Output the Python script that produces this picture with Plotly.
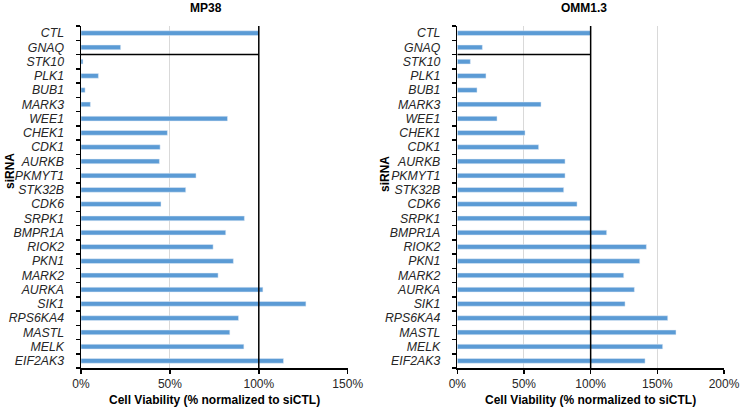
import plotly.graph_objects as go

genes = ["CTL", "GNAQ", "STK10", "PLK1", "BUB1", "MARK3", "WEE1", "CHEK1", "CDK1",
         "AURKB", "PKMYT1", "STK32B", "CDK6", "SRPK1", "BMPR1A", "RIOK2", "PKN1",
         "MARK2", "AURKA", "SIK1", "RPS6KA4", "MASTL", "MELK", "EIF2AK3"]

mp38 = [100, 22.3, 1.1, 9.8, 2.3, 5.3, 82.4, 48.6, 44.5, 44.1, 64.7, 58.9, 45.0,
        91.9, 81.4, 74.3, 85.7, 77.1, 102.3, 126.5, 88.6, 83.7, 91.6, 113.9]

omm13 = [100, 18.8, 9.8, 21.5, 14.8, 62.8, 29.8, 50.8, 61.0, 80.8, 80.8, 79.8, 89.8,
         100, 112.0, 141.8, 136.8, 124.8, 132.8, 125.8, 157.8, 164.0, 154.0, 140.8]

left_ticks = [0, 50, 100, 150]
right_ticks = [0, 50, 100, 150, 200]

W, H = 740, 411
BLUE = "#5B9BD5"
FONT = "Liberation Sans, Arial, sans-serif"

def px(x):
    return x / W

def py(y):
    return 1 - y / H

fig = go.Figure()
fig.add_trace(go.Bar(y=genes, x=mp38, orientation="h", marker_color=BLUE,
                     width=0.33, xaxis="x", yaxis="y", showlegend=False))
fig.add_trace(go.Bar(y=genes, x=omm13, orientation="h", marker_color=BLUE,
                     width=0.33, xaxis="x2", yaxis="y2", showlegend=False))

ydom = [py(368), py(26)]
xcommon = dict(showline=True, linecolor="black", linewidth=1.5, ticks="outside",
               ticklen=4, tickcolor="black", tickwidth=1.5, showgrid=True,
               gridcolor="#d9d9d9", gridwidth=1, zeroline=False,
               tickfont=dict(size=12, color="#262626", family=FONT), fixedrange=True,
               automargin=False)
ycommon = dict(showline=True, linecolor="black", linewidth=1.5, ticks="outside",
               ticklen=4, tickcolor="black", tickwidth=1.5, tickson="boundaries",
               showgrid=False, autorange="reversed", type="category",
               tickfont=dict(size=12.3, color="#262626", family=FONT),
               ticklabelstandoff=13, domain=ydom, automargin=False, fixedrange=True,
               tickvals=genes, ticktext=[f"<i>{g}</i>" for g in genes])

fig.update_layout(
    width=W, height=H, margin=dict(l=0, r=0, t=0, b=0),
    paper_bgcolor="white", plot_bgcolor="white",
    font=dict(family=FONT, size=12, color="black"),
    xaxis=dict(domain=[px(81), px(347.7)], range=[0, 150], tickvals=left_ticks,
               ticktext=[f"{t}%" for t in left_ticks], anchor="y", **xcommon),
    yaxis=dict(anchor="x", **ycommon),
    xaxis2=dict(domain=[px(457.3), px(724)], range=[0, 200], tickvals=right_ticks,
                ticktext=[f"{t}%" for t in right_ticks], anchor="y2", **xcommon),
    yaxis2=dict(anchor="x2", **ycommon),
)

# reference lines at 100% and separator below controls
for xa, ya in (("x", "y"), ("x2", "y2")):
    fig.add_shape(type="line", xref=xa, yref=f"{ya} domain", x0=100, x1=100, y0=0, y1=1,
                  line=dict(color="black", width=1.5))
    fig.add_shape(type="line", xref=xa, yref=ya, x0=0, x1=100, y0=1.5, y1=1.5,
                  line=dict(color="black", width=1.5))

ann = []
bold = dict(size=12, color="black", family=FONT)
ann.append(dict(text="<b>MP38</b>", x=px(206), y=py(8), xref="paper", yref="paper",
                showarrow=False, font=bold, xanchor="center", yanchor="middle"))
ann.append(dict(text="<b>OMM1.3</b>", x=px(584), y=py(8), xref="paper", yref="paper",
                showarrow=False, font=bold, xanchor="center", yanchor="middle"))
ann.append(dict(text="<b>siRNA</b>", x=px(10), y=py(171), xref="paper", yref="paper",
                showarrow=False, font=bold, textangle=-90, xanchor="center", yanchor="middle"))
ann.append(dict(text="<b>siRNA</b>", x=px(385), y=py(174), xref="paper", yref="paper",
                showarrow=False, font=bold, textangle=-90, xanchor="center", yanchor="middle"))
ann.append(dict(text="<b>Cell Viability (% normalized to siCTL)</b>", x=px(214), y=py(400),
                xref="paper", yref="paper", showarrow=False, font=bold,
                xanchor="center", yanchor="middle"))
ann.append(dict(text="<b>Cell Viability (% normalized to siCTL)</b>", x=px(590.5), y=py(400),
                xref="paper", yref="paper", showarrow=False, font=bold,
                xanchor="center", yanchor="middle"))
fig.update_layout(annotations=ann)

fig.write_html("out.html", post_script="document.body.style.margin='0';",
               config={"displayModeBar": False, "staticPlot": True})
